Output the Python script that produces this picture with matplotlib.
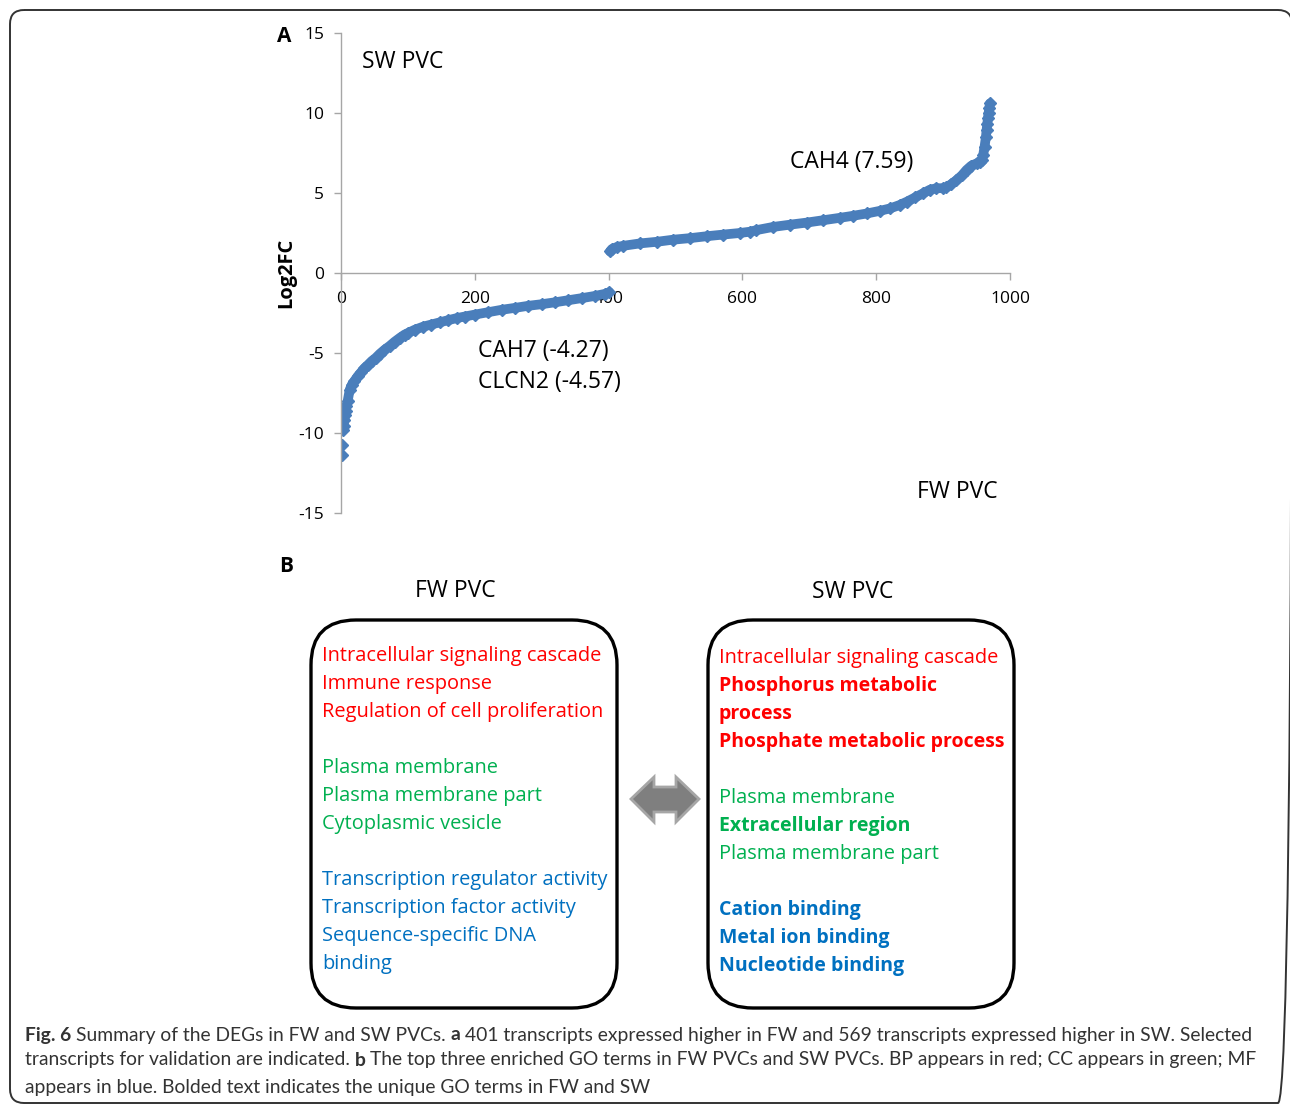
import matplotlib
matplotlib.use('Agg')
import matplotlib.pyplot as plt
from matplotlib.patches import FancyBboxPatch, Polygon

plt.rcParams['font.family'] = ['Open Sans', 'DejaVu Sans']
plt.rcParams['axes.unicode_minus'] = False

# sorted log2 fold changes (rank, value)
fw_rank = [1, 2, 3, 4, 5, 6, 7, 8, 10, 13, 16, 20, 25, 30, 35, 40, 46, 52, 58,
           65, 73, 80, 88, 95, 100, 110, 123, 135, 148, 160, 173, 185, 200,
           220, 240, 260, 280, 300, 320, 340, 360, 380, 395, 401]
fw_log2fc = [-11.4, -10.75, -9.8, -9.55, -9.2, -8.9, -8.6, -8.3, -8.0, -7.3,
             -7.0, -6.75, -6.45, -6.2, -5.95, -5.75, -5.5, -5.3, -5.05, -4.8,
             -4.55, -4.3, -4.05, -3.85, -3.75, -3.55, -3.35, -3.22, -3.08,
             -2.95, -2.82, -2.72, -2.6, -2.45, -2.3, -2.18, -2.05, -1.95,
             -1.83, -1.7, -1.57, -1.43, -1.3, -1.2]
sw_rank = [402, 405, 412, 422, 447, 472, 496, 522, 547, 571, 596, 611, 621,
           646, 671, 696, 721, 746, 766, 786, 805, 821, 835, 846, 858, 870,
           880, 890, 900, 905, 912, 920, 928, 935, 942, 950, 955, 958, 960,
           962, 964, 965, 966, 967, 968, 969, 970]
sw_log2fc = [1.35, 1.5, 1.62, 1.7, 1.85, 1.95, 2.08, 2.18, 2.3, 2.4, 2.5, 2.58,
             2.68, 2.88, 3.02, 3.15, 3.3, 3.45, 3.58, 3.72, 3.88, 4.04, 4.25,
             4.46, 4.72, 4.98, 5.2, 5.3, 5.3, 5.35, 5.55, 5.8, 6.1, 6.44, 6.7,
             6.85, 6.95, 7.06, 7.4, 7.9, 8.5, 8.94, 9.3, 9.7, 10.0, 10.3, 10.6]

x_ticks = [0, 200, 400, 600, 800, 1000]
y_ticks = [-15, -10, -5, 0, 5, 10, 15]

# GO terms per group: (text, colour, bold)
RED, GREEN, BLUE = '#ff0000', '#00b050', '#0070c0'
fw_terms = [('Intracellular signaling cascade', RED, False),
            ('Immune response', RED, False),
            ('Regulation of cell proliferation', RED, False),
            None,
            ('Plasma membrane', GREEN, False),
            ('Plasma membrane part', GREEN, False),
            ('Cytoplasmic vesicle', GREEN, False),
            None,
            ('Transcription regulator activity', BLUE, False),
            ('Transcription factor activity', BLUE, False),
            ('Sequence-specific DNA', BLUE, False),
            ('binding', BLUE, False)]
sw_terms = [('Intracellular signaling cascade', RED, False),
            ('Phosphorus metabolic', RED, True),
            ('process', RED, True),
            ('Phosphate metabolic process', RED, True),
            None,
            ('Plasma membrane', GREEN, False),
            ('Extracellular region', GREEN, True),
            ('Plasma membrane part', GREEN, False),
            None,
            ('Cation binding', BLUE, True),
            ('Metal ion binding', BLUE, True),
            ('Nucleotide binding', BLUE, True)]

caption = [
    [('Fig. 6', True), ('Summary of the DEGs in FW and SW PVCs.', False), ('a', True),
     ('401 transcripts expressed higher in FW and 569 transcripts expressed higher in SW. Selected', False)],
    [('transcripts for validation are indicated.', False), ('b', True),
     ('The top three enriched GO terms in FW PVCs and SW PVCs. BP appears in red; CC appears in green; MF', False)],
    [('appears in blue. Bolded text indicates the unique GO terms in FW and SW', False)],
]

W, H = 1290, 1105
fig = plt.figure(figsize=(W / 100, H / 100), dpi=100)

# pixel-space layer for the frame, panel B and caption
bg = fig.add_axes([0, 0, 1, 1])
bg.set_xlim(0, W)
bg.set_ylim(H, 0)
bg.axis('off')

bg.add_patch(FancyBboxPatch((10, 10), 1282, 1093,
                            boxstyle='round,pad=0,rounding_size=14',
                            fc='none', ec='#333333', lw=1.4))

# ---- panel A ----
ax = fig.add_axes([341 / W, (H - 513) / H, 669 / W, 480 / H])
ax.patch.set_alpha(0)
blue = '#4a7ebb'
ax.plot(fw_rank[3:], fw_log2fc[3:], color=blue, lw=7, solid_capstyle='round')
ax.plot(fw_rank, fw_log2fc, 'D', color=blue, ms=6.5, mec=blue)
ax.plot(sw_rank, sw_log2fc, color=blue, lw=7, solid_capstyle='round')
ax.plot(sw_rank, sw_log2fc, 'D', color=blue, ms=6.5, mec=blue)

ax.set_xlim(0, 1000)
ax.set_ylim(-15, 15)
ax.set_xticks(x_ticks)
ax.set_yticks(y_ticks)
for s in ['top', 'right']:
    ax.spines[s].set_visible(False)
ax.spines['bottom'].set_position(('data', 0))
ax.spines['left'].set_position(('data', 0))
for s in ['bottom', 'left']:
    ax.spines[s].set_color('#a6a6a6')
    ax.spines[s].set_linewidth(1)
ax.tick_params(axis='both', direction='out', length=5, width=1,
               color='#a6a6a6', labelsize=12.5, labelcolor='black')
ax.tick_params(axis='y', pad=7)
ax.tick_params(axis='x', pad=8)
ax.set_ylabel('Log2FC', fontsize=14.5, fontweight='bold', labelpad=2)

bg.text(284, 37, 'A', fontsize=15, fontweight='bold', ha='center', va='center')
bg.text(362, 62, 'SW PVC', fontsize=16.5, va='center')
bg.text(790, 162, 'CAH4 (7.59)', fontsize=16.5, va='center')
bg.text(478, 351, 'CAH7 (-4.27)', fontsize=16.5, va='center')
bg.text(478, 382, 'CLCN2 (-4.57)', fontsize=16.5, va='center')
bg.text(917, 492, 'FW PVC', fontsize=16.5, va='center')

# ---- panel B ----
bg.text(286, 566, 'B', fontsize=15, fontweight='bold', ha='center', va='center')
bg.text(455, 591, 'FW PVC', fontsize=16.5, ha='center', va='center')
bg.text(853, 592, 'SW PVC', fontsize=16.5, ha='center', va='center')

for x0 in (311, 708):
    bg.add_patch(FancyBboxPatch((x0, 620), 306, 388,
                                boxstyle='round,pad=0,rounding_size=45',
                                fc='none', ec='black', lw=2.4))

for terms, x0, y0 in ((fw_terms, 322, 656), (sw_terms, 719, 658)):
    for i, item in enumerate(terms):
        if item is None:
            continue
        txt, col, bold = item
        bg.text(x0, y0 + 28 * i, txt, color=col,
                fontsize=14 if bold else 14.4,
                fontweight='bold' if bold else 'normal', va='center')

arrow = [(631, 799), (654, 777), (654, 787), (676, 787), (676, 777),
         (699, 799), (676, 822), (676, 812), (654, 812), (654, 822)]
bg.add_patch(Polygon(arrow, closed=True, fc='#7f7f7f', ec='#a6a6a6', lw=2))

# ---- caption ----
fig.canvas.draw()
renderer = fig.canvas.get_renderer()
cap_size = 13.9
gap = 4.7
for line, y in zip(caption, (1035, 1060, 1087)):
    x = 25
    for txt, bold in line:
        t = bg.text(x, y, txt, fontsize=cap_size, color='#333333', va='center',
                    fontweight='bold' if bold else 'normal', family=['Lato', 'DejaVu Sans'])
        x += t.get_window_extent(renderer).width + gap

fig.savefig('out.png', dpi=100)
